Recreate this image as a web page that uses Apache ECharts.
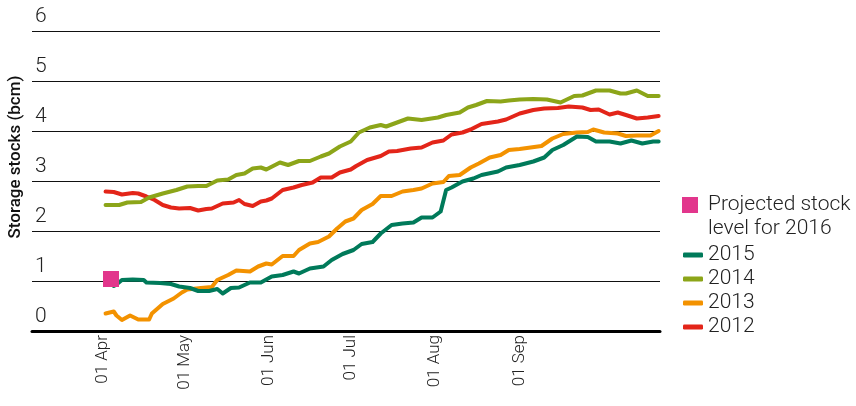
<!DOCTYPE html>
<html><head><meta charset="utf-8">
<script src="https://cdn.jsdelivr.net/npm/echarts@6/dist/echarts.min.js"></script>
<style>html,body{margin:0;padding:0;background:#fff}#c{width:856px;height:406px}</style>
</head><body><div id="c"></div>
<script>
// x values are days counted from 01 Apr
const monthTickDays = [0, 30, 61, 91, 122, 153];
const monthTickLabels = ['01 Apr', '01 May', '01 Jun', '01 Jul', '01 Aug', '01 Sep'];
const yMin = 0, yMax = 6, yStep = 1;
const yAxisTitle = 'Storage stocks (bcm)';
const seriesNames = ['2015', '2014', '2013', '2012'];
const projectedName = 'Projected stock level for 2016';
const projectedLegendLines = ['Projected stock', 'level for 2016'];
const projectedDays = [3];
const projectedValues = [1.04];

const days2012 = [1,4,7,11,13,16,19,22,25,28,32,35,38,40,44,48,50,52,55,58,60,62,66,70,73,77,80,84,87,91,93,97,102,105,108,113,117,121,125,128,132,135,139,145,148,153,158,162,167,171,176,179,182,186,189,192,196,200,204];
const vals2012 = [2.79,2.78,2.73,2.76,2.75,2.69,2.62,2.52,2.47,2.45,2.46,2.41,2.44,2.45,2.55,2.57,2.62,2.54,2.50,2.59,2.61,2.65,2.82,2.87,2.92,2.97,3.07,3.07,3.17,3.23,3.30,3.42,3.50,3.59,3.60,3.65,3.67,3.77,3.81,3.93,3.97,4.03,4.14,4.19,4.23,4.35,4.42,4.45,4.46,4.49,4.47,4.42,4.43,4.33,4.37,4.32,4.25,4.27,4.30];

const days2013 = [1,4,5,7,10,13,17,18,22,26,29,31,36,40,42,46,49,54,57,60,62,66,70,72,76,79,83,86,89,92,95,99,102,106,110,114,117,121,125,127,131,135,138,142,146,149,153,157,161,165,169,174,178,180,184,189,192,196,201,204];
const vals2013 = [0.35,0.39,0.31,0.22,0.31,0.23,0.23,0.35,0.54,0.65,0.77,0.83,0.86,0.88,1.02,1.12,1.21,1.19,1.29,1.35,1.33,1.50,1.50,1.62,1.75,1.78,1.89,2.05,2.19,2.25,2.42,2.54,2.70,2.70,2.79,2.82,2.85,2.95,2.98,3.10,3.12,3.27,3.35,3.47,3.52,3.62,3.64,3.67,3.70,3.85,3.94,3.97,3.98,4.03,3.97,3.95,3.90,3.91,3.91,4.00];

const days2014 = [1,6,9,14,17,22,27,31,35,38,42,46,49,52,55,58,60,65,68,72,76,80,83,87,91,94,98,102,104,108,112,117,123,126,131,134,137,141,146,149,153,158,163,168,173,176,181,186,190,192,196,200,204];
const vals2014 = [2.52,2.52,2.57,2.58,2.67,2.75,2.82,2.89,2.90,2.90,3.01,3.03,3.12,3.15,3.25,3.27,3.23,3.37,3.32,3.40,3.40,3.49,3.55,3.69,3.79,3.97,4.07,4.12,4.09,4.17,4.25,4.22,4.27,4.32,4.37,4.47,4.52,4.60,4.59,4.61,4.63,4.64,4.63,4.57,4.70,4.71,4.81,4.81,4.75,4.75,4.81,4.70,4.70];

const days2015 = [4,5,7,11,15,16,21,25,28,32,35,39,42,44,47,50,54,58,62,66,70,72,76,81,84,88,92,95,99,102,106,110,114,117,121,124,126,128,132,136,139,145,148,153,158,162,165,169,174,178,181,186,190,194,198,202,204];
const vals2015 = [0.90,0.93,1.02,1.03,1.02,0.97,0.96,0.94,0.89,0.86,0.80,0.80,0.84,0.75,0.86,0.87,0.97,0.97,1.09,1.12,1.19,1.15,1.25,1.29,1.42,1.54,1.62,1.74,1.78,1.95,2.12,2.15,2.17,2.27,2.27,2.39,2.82,2.87,2.99,3.05,3.12,3.19,3.27,3.32,3.39,3.47,3.62,3.72,3.89,3.88,3.79,3.79,3.75,3.81,3.75,3.79,3.79];

const pairs = (d, v) => d.map((x, i) => [x, v[i]]);
const FONT = 'Roboto, "Liberation Sans", Arial, sans-serif';
const colors = { '2015': '#007a5a', '2014': '#8ca519', '2013': '#f39200', '2012': '#e32519' };
const lineData = {
  '2012': pairs(days2012, vals2012),
  '2013': pairs(days2013, vals2013),
  '2014': pairs(days2014, vals2014),
  '2015': pairs(days2015, vals2015)
};

const chart = echarts.init(document.getElementById('c'), null, { renderer: 'canvas' });
const lineSeries = ['2012', '2013', '2014', '2015'].map(n => ({
  type: 'line', name: n, data: lineData[n],
  symbol: 'none', showSymbol: false,
  lineStyle: { width: 4, color: colors[n], join: 'round', cap: 'round' },
  itemStyle: { color: colors[n] },
  emphasis: { disabled: true }
}));

chart.setOption({
  animation: false,
  textStyle: { fontFamily: FONT },
  grid: { left: 32, right: 196, top: 31, bottom: 75, containLabel: false, outerBoundsMode: 'none' },
  xAxis: {
    type: 'value', min: -26, max: 204.5,
    axisLine: { show: true, onZero: false, lineStyle: { color: '#000', width: 3 } },
    axisTick: { show: false },
    splitLine: { show: false },
    axisLabel: {
      customValues: monthTickDays,
      rotate: 90, margin: 4,
      fontSize: 17, color: '#222', fontWeight: 300, fontFamily: FONT,
      formatter: v => monthTickLabels[monthTickDays.indexOf(v)]
    }
  },
  yAxis: {
    type: 'value', min: yMin, max: yMax, interval: yStep,
    axisLine: { show: false }, axisTick: { show: false },
    splitLine: { show: true, lineStyle: { color: '#111', width: 1 } },
    axisLabel: {
      inside: true, align: 'left', verticalAlign: 'bottom', margin: 3,
      padding: [0, 0, 4, 0],
      fontSize: 21, color: '#222', fontWeight: 300, fontFamily: FONT
    }
  },
  legend: [
    {
      data: [projectedName], orient: 'vertical', left: 677, top: 164,
      icon: 'rect', itemWidth: 16, itemHeight: 16, selectedMode: false,
      itemStyle: { opacity: 1 },
      formatter: () => '\n' + projectedLegendLines.join('\n'),
      textStyle: { fontSize: 21, lineHeight: 24, color: '#222', fontWeight: 300, fontFamily: FONT, padding: [0, 0, 0, 5] }
    },
    {
      data: seriesNames, orient: 'vertical', left: 678, top: 238,
      icon: 'roundRect', itemWidth: 20, itemHeight: 5, itemGap: 0, selectedMode: false,
      textStyle: { fontSize: 21, lineHeight: 24, color: '#222', fontWeight: 300, fontFamily: FONT }
    }
  ],
  graphic: [{
    type: 'text', x: 16, y: 157, rotation: Math.PI / 2,
    style: { text: yAxisTitle, fontSize: 17, fontWeight: 500, fill: '#111', fontFamily: FONT, align: 'center', verticalAlign: 'middle' }
  }],
  series: lineSeries.concat([{
    type: 'scatter', name: projectedName, data: pairs(projectedDays, projectedValues),
    symbol: 'rect', symbolSize: 16, itemStyle: { color: '#e2368c', opacity: 1 }, z: 10,
    emphasis: { disabled: true }
  }])
});
</script></body></html>
